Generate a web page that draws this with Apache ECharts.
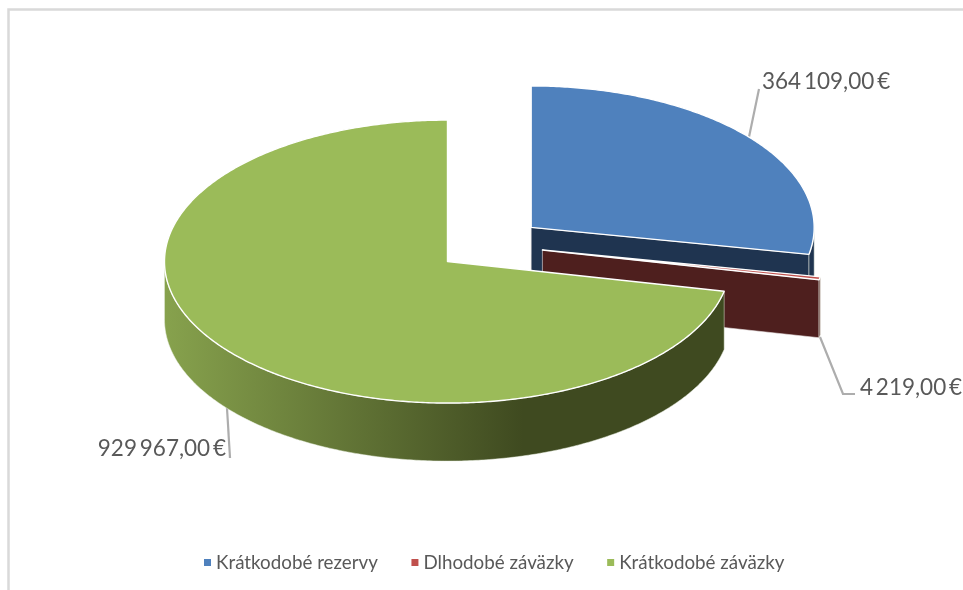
<!DOCTYPE html>
<html><head><meta charset="utf-8">
<style>html,body{margin:0;padding:0;background:#fff}#c{width:963px;height:590px}</style>
<script src="https://cdn.jsdelivr.net/npm/echarts@6/dist/echarts.min.js"></script>
</head><body><div id="c"></div>
<script>
const categories = ['Krátkodobé rezervy', 'Dlhodobé záväzky', 'Krátkodobé záväzky'];
const values = [364109, 4219, 929967];
const topColors = ['#4F81BD', '#C0504D', '#9BBB59'];

const PIE = {cx: 489.5, cy: 244.6, rx: 283, ry: 141.5, depth: 58, explode: 54};
const LEADERS = [
  {line: [[749, 137], [759, 89]], text: [762, 82], align: 'left'},
  {line: [[820, 337], [843, 394], [855, 394]], text: [860, 388], align: 'left'},
  {line: [[227, 408], [230, 458]], text: [226, 449], align: 'right'}
];
const total = values.reduce((a, b) => a + b, 0);
const fmt = v => String(v).replace(/\B(?=(\d{3})+$)/g, '\u2009') + ',00\u2009€';
const sideFill = [
  '#1F3450', '#4E1F1E',
  new echarts.graphic.LinearGradient(164, 0, 523, 0, [
    {offset: 0, color: '#87A24D'}, {offset: 1, color: '#3F4A20'}
  ], true)
];

function renderSlice(i) {
  const before = values.slice(0, i).reduce((a, b) => a + b, 0);
  const a0 = before / total * 2 * Math.PI;
  const a1 = (before + values[i]) / total * 2 * Math.PI;
  const mid = (a0 + a1) / 2;
  const ox = PIE.cx + PIE.explode * Math.sin(mid);
  const oy = PIE.cy - PIE.explode * 0.5 * Math.cos(mid);
  const pt = (a, d) => [ox + PIE.rx * Math.sin(a), oy - PIE.ry * Math.cos(a) + (d || 0)];
  const arc = (s, e, d) => {
    const n = Math.max(2, Math.ceil((e - s) / 0.01));
    const out = [];
    for (let k = 0; k <= n; k++) out.push(pt(s + (e - s) * k / n, d));
    return out;
  };
  const kids = [];
  const L = LEADERS[i];
  kids.push({type: 'polyline', shape: {points: L.line}, style: {fill: null, stroke: '#ADADAD', lineWidth: 2.2}});
  if (a1 < Math.PI) {
    kids.push({type: 'polygon', shape: {points: [[ox, oy], pt(a1), pt(a1, PIE.depth), [ox, oy + PIE.depth]]},
      style: {fill: sideFill[i], stroke: '#e9e4e4', lineWidth: 0.6}});
  }
  const rs = Math.max(a0, Math.PI / 2), re = Math.min(a1, 3 * Math.PI / 2);
  if (re > rs) {
    kids.push({type: 'polygon', shape: {points: arc(rs, re, 0).concat(arc(rs, re, PIE.depth).reverse())},
      style: {fill: sideFill[i], stroke: '#e9efe0', lineWidth: 0.5}});
  }
  kids.push({type: 'polygon', shape: {points: [[ox, oy]].concat(arc(a0, a1, 0))},
    style: {fill: topColors[i], stroke: '#ffffff', lineWidth: 1.4, lineJoin: 'round'}});
  kids.push({type: 'text', style: {text: fmt(values[i]), x: L.text[0], y: L.text[1], fill: '#595959',
    font: '22.5px Lato', textAlign: L.align, textVerticalAlign: 'middle'}});
  return {type: 'group', children: kids};
}

const chart = echarts.init(document.getElementById('c'), null, {renderer: 'canvas'});
chart.setOption({
  animation: false,
  legend: {
    data: categories, left: 199, top: 548, icon: 'rect', itemWidth: 7, itemHeight: 7, itemGap: 33.5,
    textStyle: {color: '#595959', fontFamily: 'Lato', fontSize: 18.8, padding: [0, 0, 0, 0]}
  },
  graphic: [
    {type: 'polyline', shape: {points: [[8.5, 590], [8.5, 9.5], [963, 9.5]]},
     style: {fill: null, stroke: '#D9D9D9', lineWidth: 2.5}}
  ],
  series: categories.map((name, i) => ({
    type: 'custom', name, coordinateSystem: 'none', itemStyle: {color: topColors[i]},
    data: [[values[i]]], renderItem: () => renderSlice(i)
  }))
});
</script></body></html>
